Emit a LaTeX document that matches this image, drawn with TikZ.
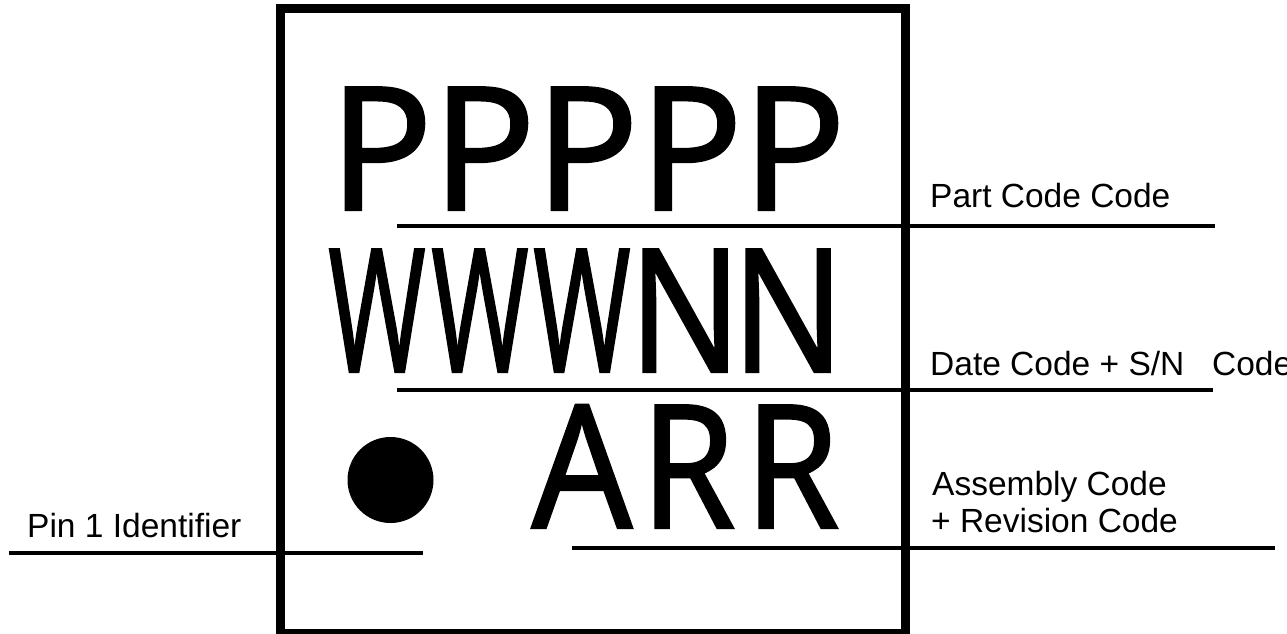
\documentclass[tikz,border=0pt]{standalone}
\usepackage{fontspec}
\setmainfont{Liberation Sans}
\newfontfamily\bigfont{Noto Sans}[FakeBold=1.2]
\usepackage{graphicx}
\begin{document}
\begin{tikzpicture}[x=1pt,y=-1pt,
  lbl/.style={anchor=base west,inner sep=0pt,font=\fontsize{33.5}{37}\selectfont},
  big/.style={anchor=base,inner sep=0pt,font=\bigfont\bfseries\fontsize{172}{172}\selectfont},
  leader/.style={line width=3.5pt}]
\useasboundingbox (0,0) rectangle (1287,634);
\draw[line width=9pt] (280.5,8.5) rectangle (905,633.5);
% big letters
\node[big] (p1) at (381,210) {P};
\node[big] (p2) at (484,210) {P};
\node[big] (p3) at (587,210) {P};
\node[big] (p4) at (691,210) {P};
\node[big] (p5) at (794,210) {P};
\node[big] (w1) at (377,372) {\scalebox{0.61}[1]{W}};
\node[big] (w2) at (480,372) {\scalebox{0.61}[1]{W}};
\node[big] (w3) at (582,372) {\scalebox{0.61}[1]{W}};
\node[big] (n1) at (685,372) {\scalebox{0.86}[1]{N}};
\node[big] (n2) at (788,372) {\scalebox{0.86}[1]{N}};
\node[big] (a1) at (582,528) {\scalebox{0.92}[1]{A}};
\node[big] (r1) at (688,528) {\scalebox{0.89}[1]{R}};
\node[big] (r2) at (792,528) {\scalebox{0.89}[1]{R}};
\fill (390.5,480) circle (43);
% labels
\node[lbl] (part) at (930,207) {Part Code Code};
\node[lbl] (date) at (930,375) {Date Code + S/N \hspace{18.5pt}Code};
\node[lbl] (asm) at (932,495) {Assembly Code};
\node[lbl] (rev) at (931,532) {+ Revision Code};
\node[lbl] (pin) at (27,537) {Pin 1 Identifier};
% leader lines
\coordinate (l1a) at (397,226); \coordinate (l1b) at (1215,226);
\coordinate (l2a) at (397,390); \coordinate (l2b) at (1213,390);
\coordinate (l3a) at (572,548); \coordinate (l3b) at (1275,548);
\coordinate (l4a) at (9,553);   \coordinate (l4b) at (423,553);
\draw[leader] (l1a) -- (l1b);
\draw[leader] (l2a) -- (l2b);
\draw[leader] (l3a) -- (l3b);
\draw[leader] (l4a) -- (l4b);
\end{tikzpicture}
\end{document}
